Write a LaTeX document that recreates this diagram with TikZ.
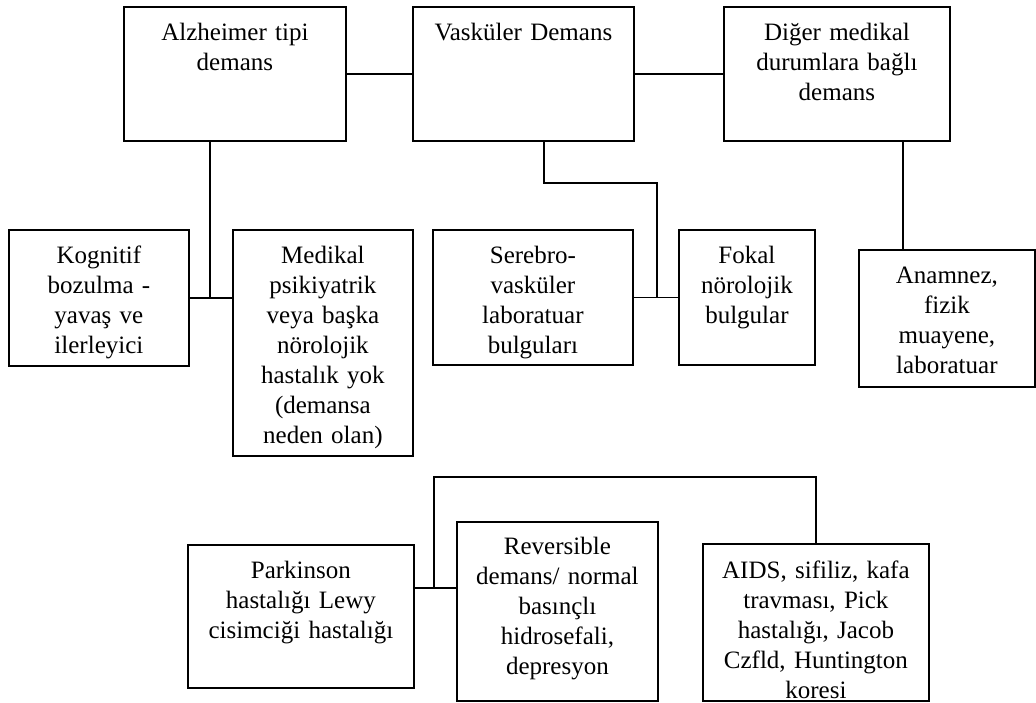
\documentclass[tikz,border=0pt]{standalone}
\usepackage{fontspec}
\setmainfont{Liberation Serif}
\begin{document}
\begin{tikzpicture}[x=1pt,y=-1pt,
  box/.style={draw, line width=1.8pt, inner sep=0pt, anchor=north west},
  txt/.style={anchor=base, align=center, inner sep=0pt, font=\fontsize{25}{30}\selectfont},
  conn/.style={line width=1.8pt}]
\useasboundingbox (0,0) rectangle (1036,702);
% top row
\node[box, minimum width=222pt, minimum height=134pt] (alz) at (123,6) {};
\node[txt, text width=214pt] (alzt) at ([yshift=-34pt]alz.north) {Alzheimer tipi\\demans};
\node[box, minimum width=221pt, minimum height=134pt] (vas) at (412,6) {};
\node[txt, text width=213pt] (vast) at ([yshift=-34pt]vas.north) {Vasküler Demans};
\node[box, minimum width=226pt, minimum height=134pt] (dig) at (723,6) {};
\node[txt, text width=218pt] (digt) at ([yshift=-34pt]dig.north) {Diğer medikal\\durumlara bağlı\\demans};
% middle row
\node[box, minimum width=180pt, minimum height=136pt] (kog) at (8,229) {};
\node[txt, text width=172pt] (kogt) at ([yshift=-34pt]kog.north) {Kognitif\\bozulma -\\yavaş ve\\ilerleyici};
\node[box, minimum width=180pt, minimum height=226pt] (med) at (232,229) {};
\node[txt, text width=172pt] (medt) at ([yshift=-34pt]med.north) {Medikal\\psikiyatrik\\veya başka\\nörolojik\\hastalık yok\\(demansa\\neden olan)};
\node[box, minimum width=200pt, minimum height=135pt] (ser) at (432,229) {};
\node[txt, text width=192pt] (sert) at ([yshift=-34pt]ser.north) {Serebro-\\vasküler\\laboratuar\\bulguları};
\node[box, minimum width=136pt, minimum height=135pt] (fok) at (678,229) {};
\node[txt, text width=130pt] (fokt) at ([yshift=-34pt]fok.north) {Fokal\\nörolojik\\bulgular};
\node[box, minimum width=176pt, minimum height=137pt] (ana) at (858,249) {};
\node[txt, text width=168pt] (anat) at ([yshift=-34pt]ana.north) {Anamnez,\\fizik\\muayene,\\laboratuar};
% bottom row
\node[box, minimum width=226pt, minimum height=143pt] (par) at (187,544) {};
\node[txt, text width=218pt] (part) at ([yshift=-34pt]par.north) {Parkinson\\hastalığı Lewy\\cisimciği hastalığı};
\node[box, minimum width=201pt, minimum height=179pt] (rev) at (456,521) {};
\node[txt, text width=195pt] (revt) at ([yshift=-33pt]rev.north) {Reversible\\demans/ normal\\basınçlı\\hidrosefali,\\depresyon};
\node[box, minimum width=226pt, minimum height=157pt] (aids) at (702,543) {};
\begin{scope}
\clip (aids.north west) rectangle ([yshift=2pt]aids.south east);
\node[txt, text width=218pt] (aidst) at ([yshift=-35pt]aids.north) {AIDS, sifiliz, kafa\\travması, Pick\\hastalığı, Jacob\\Czfld, Huntington\\koresi};
\end{scope}
% connectors
\draw[conn] (alz.east) -- (vas.west);
\draw[conn] (vas.east) -- (dig.west);
\coordinate (j1) at (210,297);
\draw[conn] (j1 |- alz.south) -- (j1);
\draw[conn] (kog.east) -- (kog.east -| med.west);
\coordinate (v1) at (544,183);
\coordinate (v2) at (657,183);
\draw[conn] (v1 |- vas.south) -- (v1) -- (v2) -- (v2 |- ser.east);
\draw[conn] (ser.east) -- (ser.east -| fok.west);
\coordinate (d1) at (903,200);
\draw[conn] (d1 |- dig.south) -- (d1 |- ana.north);
\coordinate (p1) at (434,588);
\coordinate (p2) at (434,477);
\draw[conn] (par.east |- p1) -- (rev.west |- p1);
\draw[conn] (p1) -- (p2) -- (p2 -| aids.north) -- (aids.north);
\end{tikzpicture}
\end{document}
